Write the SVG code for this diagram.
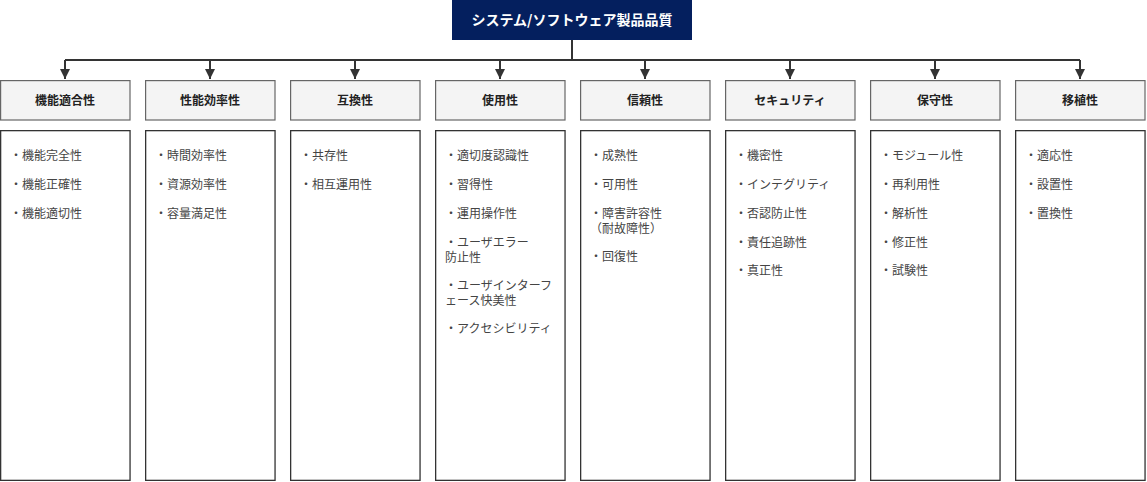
<svg xmlns="http://www.w3.org/2000/svg" width="1147" height="482" viewBox="0 0 1147 482">
<defs>
<style>
.t{font-family:"Noto Sans CJK JP","Noto Sans",sans-serif}
.title{font-size:14px;font-weight:bold;fill:#ffffff}
.hd{fill:#f4f4f4;stroke:#666666;stroke-width:1.2}
.hdt{font-size:12px;font-weight:bold;fill:#222222}
.bx{fill:#ffffff;stroke:#333333;stroke-width:1.3}
.it{font-size:12px;fill:#444444}
.ln{stroke:#333333;stroke-width:2;fill:none}
</style>
<marker id="ah" viewBox="0 0 10 10" refX="10" refY="5" markerWidth="10" markerHeight="10" markerUnits="userSpaceOnUse" orient="auto">
<path d="M0,0 L10,5 L0,10 Z" fill="#333333"/>
</marker>
</defs>
<rect width="1147" height="482" fill="#ffffff"/>
<g id="connectors">
<path class="ln" d="M572,40 V60"/>
<path class="ln" d="M65,60 H1080"/>
<path class="ln" d="M65,60 V79" marker-end="url(#ah)"/>
<path class="ln" d="M210,60 V79" marker-end="url(#ah)"/>
<path class="ln" d="M355,60 V79" marker-end="url(#ah)"/>
<path class="ln" d="M500,60 V79" marker-end="url(#ah)"/>
<path class="ln" d="M645,60 V79" marker-end="url(#ah)"/>
<path class="ln" d="M790,60 V79" marker-end="url(#ah)"/>
<path class="ln" d="M935,60 V79" marker-end="url(#ah)"/>
<path class="ln" d="M1080,60 V79" marker-end="url(#ah)"/>
</g>
<g id="root">
<rect x="452" y="0" width="240" height="40" fill="#041f5e"/>
<text class="t title" x="572" y="25" text-anchor="middle">システム/ソフトウェア製品品質</text>
</g>
<g id="n1">
<rect class="hd" x="0.6" y="80.6" width="129.4" height="39.4"/>
<text class="t hdt" x="65" y="104.5" text-anchor="middle">機能適合性</text>
<rect class="bx" x="0.65" y="130.65" width="129.4" height="349.7"/>
<text class="t it" x="10" y="160">・機能完全性</text>
<text class="t it" x="10" y="189">・機能正確性</text>
<text class="t it" x="10" y="218">・機能適切性</text>
</g>
<g id="n2">
<rect class="hd" x="145.6" y="80.6" width="129.4" height="39.4"/>
<text class="t hdt" x="210" y="104.5" text-anchor="middle">性能効率性</text>
<rect class="bx" x="145.65" y="130.65" width="129.4" height="349.7"/>
<text class="t it" x="155" y="160">・時間効率性</text>
<text class="t it" x="155" y="189">・資源効率性</text>
<text class="t it" x="155" y="218">・容量満足性</text>
</g>
<g id="n3">
<rect class="hd" x="290.6" y="80.6" width="129.4" height="39.4"/>
<text class="t hdt" x="355" y="104.5" text-anchor="middle">互換性</text>
<rect class="bx" x="290.65" y="130.65" width="129.4" height="349.7"/>
<text class="t it" x="300" y="160">・共存性</text>
<text class="t it" x="300" y="189">・相互運用性</text>
</g>
<g id="n4">
<rect class="hd" x="435.6" y="80.6" width="129.4" height="39.4"/>
<text class="t hdt" x="500" y="104.5" text-anchor="middle">使用性</text>
<rect class="bx" x="435.65" y="130.65" width="129.4" height="349.7"/>
<text class="t it" x="445" y="160">・適切度認識性</text>
<text class="t it" x="445" y="189">・習得性</text>
<text class="t it" x="445" y="218">・運用操作性</text>
<text class="t it" x="445" y="247">・ユーザエラー</text>
<text class="t it" x="445" y="261.5">防止性</text>
<text class="t it" x="445" y="290">・ユーザインターフ</text>
<text class="t it" x="445" y="304.5">ェース快美性</text>
<text class="t it" x="445" y="333">・アクセシビリティ</text>
</g>
<g id="n5">
<rect class="hd" x="580.6" y="80.6" width="129.4" height="39.4"/>
<text class="t hdt" x="645" y="104.5" text-anchor="middle">信頼性</text>
<rect class="bx" x="580.65" y="130.65" width="129.4" height="349.7"/>
<text class="t it" x="590" y="160">・成熟性</text>
<text class="t it" x="590" y="189">・可用性</text>
<text class="t it" x="590" y="218">・障害許容性</text>
<text class="t it" x="590" y="232.5">（耐故障性）</text>
<text class="t it" x="590" y="261">・回復性</text>
</g>
<g id="n6">
<rect class="hd" x="725.6" y="80.6" width="129.4" height="39.4"/>
<text class="t hdt" x="790" y="104.5" text-anchor="middle">セキュリティ</text>
<rect class="bx" x="725.65" y="130.65" width="129.4" height="349.7"/>
<text class="t it" x="735" y="160">・機密性</text>
<text class="t it" x="735" y="189">・インテグリティ</text>
<text class="t it" x="735" y="218">・否認防止性</text>
<text class="t it" x="735" y="247">・責任追跡性</text>
<text class="t it" x="735" y="275">・真正性</text>
</g>
<g id="n7">
<rect class="hd" x="870.6" y="80.6" width="129.4" height="39.4"/>
<text class="t hdt" x="935" y="104.5" text-anchor="middle">保守性</text>
<rect class="bx" x="870.65" y="130.65" width="129.4" height="349.7"/>
<text class="t it" x="880" y="160">・モジュール性</text>
<text class="t it" x="880" y="189">・再利用性</text>
<text class="t it" x="880" y="218">・解析性</text>
<text class="t it" x="880" y="247">・修正性</text>
<text class="t it" x="880" y="275">・試験性</text>
</g>
<g id="n8">
<rect class="hd" x="1015.6" y="80.6" width="129.4" height="39.4"/>
<text class="t hdt" x="1080" y="104.5" text-anchor="middle">移植性</text>
<rect class="bx" x="1015.65" y="130.65" width="129.4" height="349.7"/>
<text class="t it" x="1025" y="160">・適応性</text>
<text class="t it" x="1025" y="189">・設置性</text>
<text class="t it" x="1025" y="218">・置換性</text>
</g>
</svg>
